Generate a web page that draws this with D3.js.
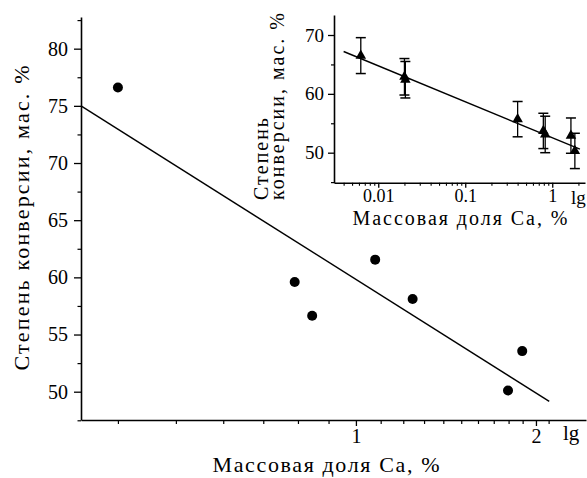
<!DOCTYPE html>
<html><head><meta charset="utf-8">
<script src="https://cdn.jsdelivr.net/npm/d3@7/dist/d3.min.js"></script>
<style>
body{margin:0;background:#fff}
</style></head>
<body><svg id="c" width="587" height="478"></svg>
<script>
// Main chart data
const mainX = [0.40, 0.79, 0.845, 1.077, 1.244, 1.796, 1.897];
const mainY = [76.6, 59.6, 56.65, 61.55, 58.1, 50.1, 53.55];
const mainFitX = [0.347, 2.105];
const mainFitY = [75.0, 49.15];
const mainYMajor = [50, 55, 60, 65, 70, 75, 80];
const mainYMinor = [47.5, 52.5, 57.5, 62.5, 67.5, 72.5, 77.5, 82.5];
const mainXMajor = [1, 2];
const mainXMinor = [0.4, 0.5, 0.6, 0.7, 0.8, 0.9, 1.1, 1.2, 1.3, 1.4, 1.5, 1.6, 1.7, 1.8, 1.9, 2.1];
// Inset data
const insetX = [0.0063, 0.0200, 0.0205, 0.40, 0.79, 0.83, 1.64, 1.82];
const insetY = [66.5, 62.9, 62.4, 55.7, 53.7, 53.1, 52.9, 50.3];
const insetErr = [3.05, 3.1, 3.1, 3.0, 3.0, 3.1, 3.0, 3.0];
const insetFitX = [0.004, 2.08];
const insetFitY = [67.2, 50.6];
const insetYMajor = [50, 60, 70];
const insetYMinor = [45, 55, 65];
const insetXMajor = [0.01, 0.1, 1];
const insetXMinor = [0.004,0.005,0.006,0.007,0.008,0.009,0.02,0.03,0.04,0.05,0.06,0.07,0.08,0.09,0.2,0.3,0.4,0.5,0.6,0.7,0.8,0.9,2];
const insetXLabels = ["0.01", "0.1", "1"];

const FONT = "'Liberation Serif', 'DejaVu Serif', serif";
const svg = d3.select("#c");

// ---------- main ----------
const x = d3.scaleLog().domain([0.347, 2.425]).range([81, 586]);
const y = d3.scaleLinear().domain([47.525, 82.77]).range([420, 17]);
const g = svg.append("g");

function styleAxis(sel, fs) {
  sel.attr("font-family", null);
  sel.select(".domain").attr("stroke", "#000").attr("stroke-width", 1.6);
  sel.selectAll(".tick line").attr("stroke", "#000").attr("stroke-width", 1.3);
  sel.selectAll(".tick text").style("font-size", fs + "px").style("font-family", FONT).attr("fill", "#000");
}
function txt(sel, fs, len) {
  sel.style("font-family", FONT).style("font-size", fs + "px").attr("fill", "#000");
  if (len) sel.attr("textLength", len).attr("lengthAdjust", "spacing");
  return sel;
}

// left axis
g.append("g").attr("transform", "translate(81,0)")
  .call(d3.axisLeft(y).tickValues(mainYMajor).tickSize(7).tickPadding(6).tickSizeOuter(0).tickFormat(d3.format("d")))
  .call(s => styleAxis(s, 20));
g.append("g").attr("transform", "translate(81,0)")
  .call(d3.axisLeft(y).tickValues(mainYMinor).tickSize(3.5).tickFormat("").tickSizeOuter(0))
  .call(s => { s.select(".domain").remove(); s.selectAll(".tick line").attr("stroke", "#000").attr("stroke-width", 1.2); });
// bottom axis
g.append("g").attr("transform", "translate(0,420)")
  .call(d3.axisBottom(x).tickValues(mainXMajor).tickSize(6).tickPadding(3).tickSizeOuter(0).tickFormat(d3.format("d")))
  .call(s => styleAxis(s, 20));
g.append("g").attr("transform", "translate(0,420)")
  .call(d3.axisBottom(x).tickValues(mainXMinor).tickSize(4).tickFormat("").tickSizeOuter(0))
  .call(s => { s.select(".domain").remove(); s.selectAll(".tick line").attr("stroke", "#000").attr("stroke-width", 1.2); });
txt(g.append("text").attr("x", 563).attr("y", 440), 21).text("lg");

// fit line
g.append("path").datum(mainFitX.map((v, i) => [v, mainFitY[i]]))
  .attr("d", d3.line().x(d => x(d[0])).y(d => y(d[1])))
  .attr("fill", "none").attr("stroke", "#000").attr("stroke-width", 1.4);
// points
g.selectAll("circle.p").data(mainX.map((v, i) => [v, mainY[i]])).join("circle")
  .attr("cx", d => x(d[0])).attr("cy", d => y(d[1])).attr("r", 5).attr("fill", "#000");

// labels
txt(g.append("text").attr("x", 326).attr("y", 472).attr("text-anchor", "middle"), 22, 227)
  .text("Массовая доля Ca, %");
txt(g.append("text").attr("transform", "translate(29,218) rotate(-90)").attr("text-anchor", "middle"), 22, 305)
  .text("Степень конверсии, мас. %");

// ---------- inset ----------
const xi = d3.scaleLog().domain([0.0031, 2.38]).range([334, 585]);
const yi = d3.scaleLinear().domain([44.9, 73.4]).range([182.7, 15]);
const gi = svg.append("g");
gi.append("g").attr("transform", "translate(334,0)")
  .call(d3.axisLeft(yi).tickValues(insetYMajor).tickSize(6).tickPadding(4).tickSizeOuter(0).tickFormat(d3.format("d")))
  .call(s => styleAxis(s, 19));
gi.append("g").attr("transform", "translate(334,0)")
  .call(d3.axisLeft(yi).tickValues(insetYMinor).tickSize(3).tickFormat("").tickSizeOuter(0))
  .call(s => { s.select(".domain").remove(); s.selectAll(".tick line").attr("stroke", "#000").attr("stroke-width", 1.2); });
gi.append("g").attr("transform", "translate(0,182.7)")
  .call(d3.axisBottom(xi).tickValues(insetXMajor).tickSize(5).tickPadding(2).tickSizeOuter(0).tickFormat((d, i) => insetXLabels[i]))
  .call(s => styleAxis(s, 18));
gi.append("g").attr("transform", "translate(0,182.7)")
  .call(d3.axisBottom(xi).tickValues(insetXMinor).tickSize(3).tickFormat("").tickSizeOuter(0))
  .call(s => { s.select(".domain").remove(); s.selectAll(".tick line").attr("stroke", "#000").attr("stroke-width", 1.1); });
txt(gi.append("text").attr("x", 571).attr("y", 204), 19).text("lg");

gi.append("path").datum(insetFitX.map((v, i) => [v, insetFitY[i]]))
  .attr("d", d3.line().x(d => xi(d[0])).y(d => yi(d[1])))
  .attr("fill", "none").attr("stroke", "#000").attr("stroke-width", 1.4);

const pts = insetX.map((v, i) => ({x: v, y: insetY[i], e: insetErr[i]}));
const eb = gi.selectAll("g.eb").data(pts).join("g");
eb.append("line").attr("x1", d => xi(d.x)).attr("x2", d => xi(d.x))
  .attr("y1", d => yi(d.y - d.e)).attr("y2", d => yi(d.y + d.e)).attr("stroke", "#000").attr("stroke-width", 1.3);
[-1, 1].forEach(sg => {
  eb.append("line").attr("x1", d => xi(d.x) - 5).attr("x2", d => xi(d.x) + 5)
    .attr("y1", d => yi(d.y + sg * d.e)).attr("y2", d => yi(d.y + sg * d.e)).attr("stroke", "#000").attr("stroke-width", 1.5);
});
eb.append("path").attr("d", d3.symbol(d3.symbolTriangle, 48))
  .attr("transform", d => `translate(${xi(d.x)},${yi(d.y)})`).attr("fill", "#000");

txt(gi.append("text").attr("transform", "translate(268,200) rotate(-90)"), 20, 82).text("Степень");
txt(gi.append("text").attr("transform", "translate(284,200) rotate(-90)"), 20, 187).text("конверсии, мас. %");
txt(gi.append("text").attr("x", 460).attr("y", 225).attr("text-anchor", "middle"), 20, 215).text("Массовая доля Ca, %");
</script></body></html>
